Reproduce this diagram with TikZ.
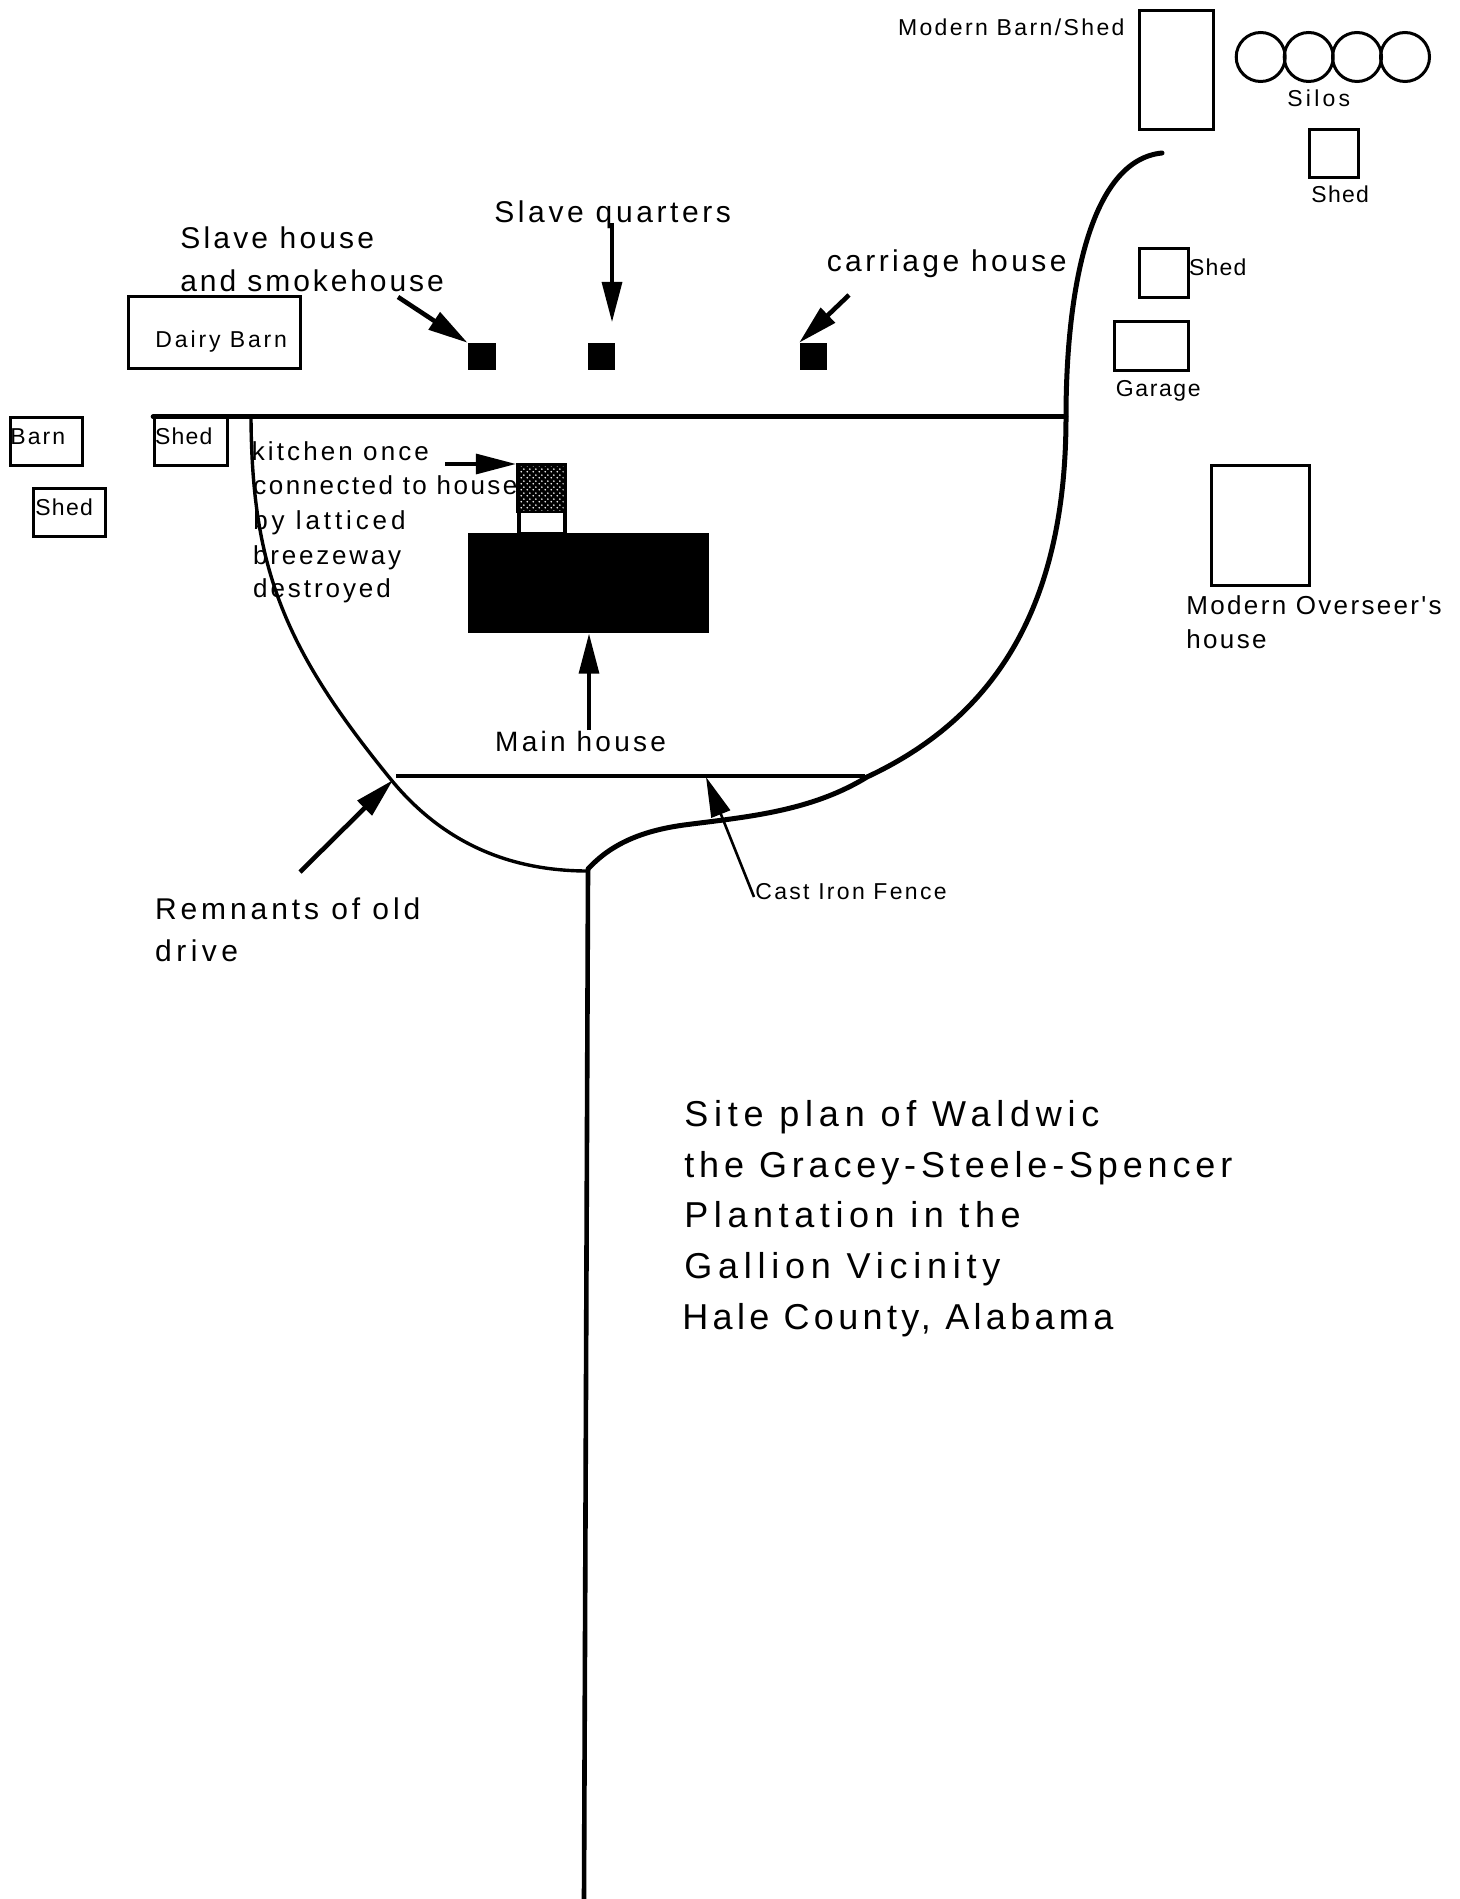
\documentclass[tikz,border=0pt]{standalone}
\usepackage{fontspec}
\setmainfont{Liberation Sans}
\newfontfamily\fbig[LetterSpace=13]{Liberation Sans}
\newfontfamily\fmid[LetterSpace=9]{Liberation Sans}
\newfontfamily\fsmall[LetterSpace=9]{Liberation Sans}
\newcommand{\lsp}[1]{\addfontfeature{LetterSpace=#1}}
\usetikzlibrary{arrows.meta,patterns}
\pgfdeclarepatternformonly{kitdots}{\pgfqpoint{-.75pt}{-.75pt}}{\pgfqpoint{2.25pt}{2.25pt}}{\pgfqpoint{3pt}{3pt}}{%
  \pgfpathcircle{\pgfqpoint{0pt}{0pt}}{.5pt}%
  \pgfpathcircle{\pgfqpoint{1.5pt}{1.5pt}}{.5pt}%
  \pgfusepath{fill}}
\tikzset{
  bld/.style={draw=black,line width=1.5pt,fill=none,inner sep=0pt},
  solidbld/.style={fill=black,draw=none,inner sep=0pt},
  road/.style={line width=2.5pt,line cap=round},
  thinroad/.style={line width=1.7pt},
  ptr/.style={line width=1.6pt,-{Triangle[length=20pt,width=10pt,inset=0pt]}},
  ptrthick/.style={ptr,line width=2.3pt},
  lblbig/.style={anchor=base west,inner sep=0pt,font=\fbig\fontsize{18}{20}\selectfont},
  lbllarge/.style={anchor=base west,inner sep=0pt,font=\fmid\fontsize{15}{17}\selectfont},
  lblmid/.style={anchor=base west,inner sep=0pt,font=\fmid\fontsize{13}{15}\selectfont},
  lblsmall/.style={anchor=base west,inner sep=0pt,font=\fsmall\fontsize{11.5}{13}\selectfont},
}
\begin{document}
\begin{tikzpicture}[x=.5pt,y=-.5pt]
\useasboundingbox (0,0) rectangle (1460,1899);
% roads
\draw[road] (1162,153) .. controls (1090,160) and (1066,290) .. (1066,417)
  .. controls (1066,600) and (1000,715) .. (867,777)
  .. controls (810,812) and (745,817) .. (684,825)
  .. controls (640,831) and (610,845) .. (588,869);
\draw[thinroad] (251,418) .. controls (252,570) and (285,650) .. (393,782)
  .. controls (450,850) and (520,871) .. (588,871);
\draw[road,line width=2.3pt] (153,416.7) -- (1066,416.7);
\draw[line width=1.6pt] (396,776) -- (865,776);
\draw[line width=2.3pt] (588,870) -- (584,1899);
% buildings
\node[bld,minimum width=86pt,minimum height=36pt] (dairy) at (214.5,333) {};
\node[bld,minimum width=35.8pt,minimum height=24pt] (barn) at (46.3,441) {};
\node[bld,minimum width=36.5pt,minimum height=24pt] (shedA) at (191,441) {};
\node[bld,minimum width=36pt,minimum height=24pt] (shedB) at (69.8,512.3) {};
\node[solidbld,minimum width=14pt,minimum height=13.5pt] (sqA) at (482,356.7) {};
\node[solidbld,minimum width=13.5pt,minimum height=13.5pt] (sqB) at (601,356.7) {};
\node[solidbld,minimum width=13.5pt,minimum height=13.5pt] (sqC) at (813,356.7) {};
\node[solidbld,minimum width=120.3pt,minimum height=50pt] (house) at (588.3,583.3) {};
\node[bld,line width=2pt,minimum width=23pt,minimum height=12pt] (link) at (541.8,522) {};
\node[solidbld,minimum width=25.5pt,minimum height=25pt] (kitchen) at (541.8,488) {};
\fill[pattern=kitdots,pattern color=white] ([shift={(4,4)}]kitchen.north west) rectangle ([shift={(-4,-3)}]kitchen.south east);
\node[bld,minimum width=37pt,minimum height=59.5pt] (modern) at (1176.3,70) {};
\node[bld,minimum width=49pt,minimum height=60pt] (overseer) at (1260.6,525.5) {};
\node[bld,minimum width=24.5pt,minimum height=24pt] (shedC) at (1333.8,153.2) {};
\node[bld,minimum width=24.5pt,minimum height=24.5pt] (shedD) at (1163.5,273.3) {};
\node[bld,minimum width=37pt,minimum height=24.5pt] (garage) at (1151.3,345.8) {};
\node[bld,circle,minimum size=24.5pt] (siloA) at (1260.7,57) {};
\node[bld,circle,minimum size=24.5pt] (siloB) at (1308.7,57) {};
\node[bld,circle,minimum size=24.5pt] (siloC) at (1357,57) {};
\node[bld,circle,minimum size=24.5pt] (siloD) at (1405,57) {};
% arrow ends
\coordinate (a1) at (398,297);
\coordinate (a2) at (612,223);
\coordinate (a2t) at (612,322);
\coordinate (a3) at (849,295);
\coordinate (a4) at (445,464);
\coordinate (a5) at (589,730);
\coordinate (a6) at (300,872);
\coordinate (a6t) at (393,780);
\coordinate (a7) at (754,897);
\coordinate (a7t) at (706,777);
\draw[ptrthick] (a1) -- (sqA.north west);
\draw[ptr] (a2) -- (a2t);
\draw[ptrthick] (a3) -- (sqC.north west);
\draw[ptr] (a4) -- (kitchen.north west |- a4);
\draw[ptr] (a5) -- (house.south -| a5);
\draw[ptrthick] (a6) -- (a6t);
\draw[ptr,line width=1.3pt] (a7) -- (a7t);
% labels
\node[lblsmall] (t1) at (897.6,36) {\lsp{10.4}Modern Barn/Shed};
\node[lblsmall] (t2) at (1287,107) {\lsp{14}Silos};
\node[lblsmall] (t3) at (1311,203) {\lsp{5.5}Shed};
\node[lblsmall] (t4) at (1188.6,276) {\lsp{5.5}Shed};
\node[lblsmall] (t5) at (1115.5,396) {\lsp{7}Garage};
\node[lbllarge] (t6) at (826.4,272) {\lsp{11.5}carriage house};
\node[lbllarge] (t7) at (180,248.3) {\lsp{10.6}Slave house};
\node[lbllarge] (t8) at (180,291.7) {\lsp{9.7}and smokehouse};
\node[lbllarge] (t9) at (494,223) {\lsp{12}Slave quarters};
\node[lblsmall] (t10) at (155,348) {\lsp{12.5}Dairy Barn};
\node[lblsmall] (t11) at (10,444) {Barn};
\node[lblsmall] (t12) at (154.6,444) {\lsp{5.5}Shed};
\node[lblsmall] (t13) at (35,515) {\lsp{5.5}Shed};
\node[lblmid] (t14) at (251.4,460) {\lsp{12}kitchen once};
\node[lblmid] (t15) at (253,494) {\lsp{9.5}connected to house};
\node[lblmid] (t16) at (253,529) {\lsp{15}by latticed};
\node[lblmid] (t17) at (252.8,564.3) {\lsp{10.7}breezeway};
\node[lblmid] (t18) at (252.8,597) {\lsp{11.3}destroyed};
\node[lbllarge,font=\fmid\fontsize{14}{16}\selectfont] (t19) at (494.8,751) {\lsp{11.6}Main house};
\node[lbllarge] (t20) at (154.7,919.3) {\lsp{13}Remnants of old};
\node[lbllarge] (t21) at (154.7,961) {\lsp{15}drive};
\node[lblsmall] (t22) at (755,899) {\lsp{10}Cast Iron Fence};
\node[lblmid] (t23) at (1186,614) {Modern Overseer's};
\node[lblmid] (t24) at (1186,648) {house};
\node[lblbig] (t25) at (684,1126) {\lsp{16}Site plan of Waldwic};
\node[lblbig] (t26) at (684,1177) {\lsp{13.5}the Gracey-Steele-Spencer};
\node[lblbig] (t27) at (684,1227.6) {\lsp{15.5}Plantation in the};
\node[lblbig] (t28) at (684,1278) {\lsp{16}Gallion Vicinity};
\node[lblbig] (t29) at (682,1329) {\lsp{12}Hale County, Alabama};
\end{tikzpicture}
\end{document}
